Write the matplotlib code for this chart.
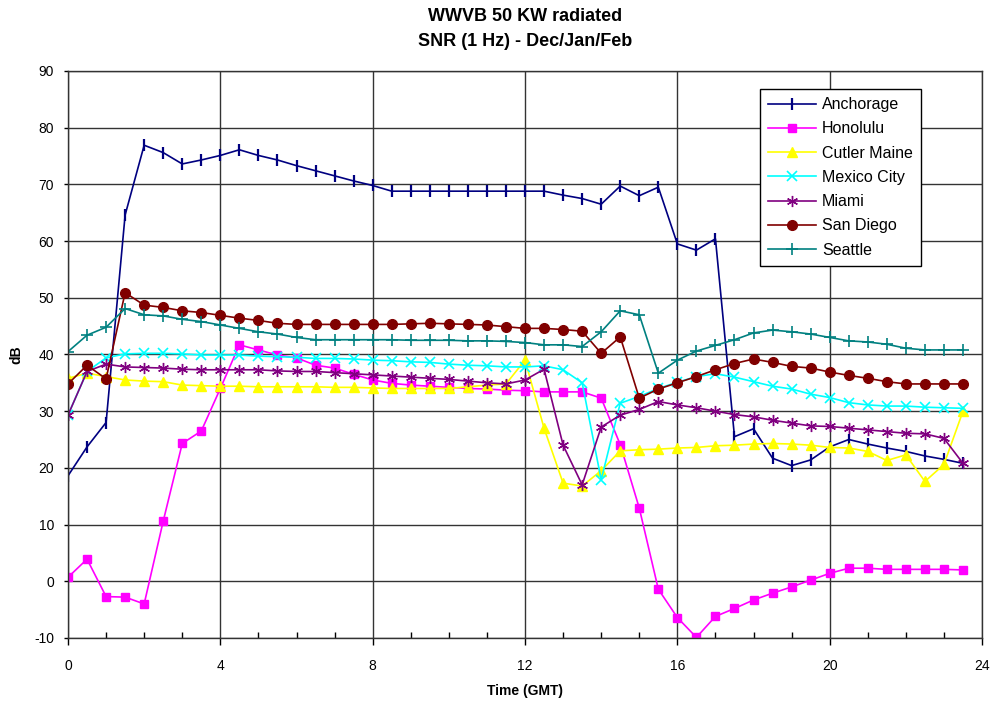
import numpy as np
import matplotlib
matplotlib.use("Agg")
import matplotlib.pyplot as plt
from matplotlib.ticker import MultipleLocator

plt.rcParams['font.family'] = ['Liberation Sans', 'DejaVu Sans']
plt.rcParams['axes.unicode_minus'] = False

# hours GMT, every half hour
hours = np.arange(0, 24, 0.5)

anchorage = [18.6, 23.7, 28.0, 64.6, 76.9, 75.6, 73.6, 74.3, 75.1, 76.1, 75.1, 74.3,
             73.3, 72.4, 71.5, 70.6, 69.8, 68.8, 68.8, 68.8, 68.8, 68.8, 68.8, 68.8,
             68.8, 68.8, 68.1, 67.5, 66.5, 69.7, 68.0, 69.5, 59.5, 58.4, 60.4, 25.5,
             26.9, 21.7, 20.4, 21.4, 23.7, 25.0, 24.2, 23.5, 22.9, 22.1, 21.5, 20.8]
honolulu = [0.7, 3.9, -2.7, -2.8, -4.0, 10.6, 24.3, 26.5, 34.0, 41.7, 40.8, 39.9,
            39.4, 38.1, 37.6, 36.5, 35.5, 34.9, 34.6, 34.4, 34.2, 34.0, 33.9, 33.7,
            33.6, 33.4, 33.4, 33.4, 32.3, 24.1, 12.9, -1.4, -6.4, -9.9, -6.2, -4.8,
            -3.3, -2.1, -1.0, 0.2, 1.4, 2.3, 2.3, 2.1, 2.1, 2.1, 2.1, 2.0]
cutler = [35.8, 36.7, 36.1, 35.5, 35.3, 35.2, 34.6, 34.5, 34.4, 34.4, 34.3, 34.3,
          34.3, 34.3, 34.2, 34.2, 34.1, 34.0, 34.0, 34.0, 34.0, 34.3, 34.6, 34.8,
          39.0, 27.0, 17.3, 16.8, 19.5, 23.0, 23.2, 23.3, 23.5, 23.6, 23.9, 24.0,
          24.2, 24.3, 24.2, 24.0, 23.6, 23.5, 22.9, 21.3, 22.3, 17.6, 20.6, 30.0]
mexico = [29.3, 37.0, 39.4, 40.1, 40.2, 40.2, 40.1, 39.9, 39.9, 39.9, 39.7, 39.6,
          39.5, 39.3, 39.3, 39.2, 39.0, 38.9, 38.7, 38.6, 38.3, 38.1, 38.0, 37.8,
          37.8, 38.0, 37.3, 35.0, 17.9, 31.4, 32.6, 34.0, 35.1, 36.1, 36.6, 36.0,
          35.2, 34.4, 33.9, 33.0, 32.4, 31.5, 31.1, 30.9, 30.9, 30.7, 30.6, 30.5]
miami = [29.3, 37.0, 38.3, 37.8, 37.7, 37.6, 37.4, 37.3, 37.3, 37.3, 37.3, 37.1,
         37.0, 37.0, 36.8, 36.6, 36.4, 36.2, 36.0, 35.8, 35.6, 35.3, 35.0, 34.8,
         35.5, 37.4, 24.0, 17.0, 27.2, 29.3, 30.3, 31.7, 31.1, 30.6, 30.0, 29.4,
         29.0, 28.4, 27.9, 27.4, 27.3, 27.0, 26.7, 26.4, 26.1, 26.0, 25.2, 20.8]
san_diego = [34.8, 38.1, 35.7, 50.9, 48.7, 48.3, 47.7, 47.4, 46.9, 46.4, 46.0, 45.5,
             45.3, 45.3, 45.3, 45.3, 45.3, 45.3, 45.4, 45.5, 45.4, 45.3, 45.2, 44.9,
             44.6, 44.6, 44.4, 44.1, 40.2, 43.1, 32.3, 33.9, 35.0, 36.1, 37.3, 38.4,
             39.2, 38.6, 37.9, 37.6, 36.9, 36.3, 35.8, 35.2, 34.8, 34.8, 34.8, 34.8]
seattle = [40.5, 43.4, 44.8, 48.1, 47.0, 46.8, 46.2, 45.8, 45.2, 44.6, 44.0, 43.6,
           43.0, 42.6, 42.6, 42.6, 42.6, 42.6, 42.5, 42.5, 42.5, 42.4, 42.4, 42.3,
           42.1, 41.7, 41.7, 41.4, 44.0, 47.7, 47.0, 36.7, 39.0, 40.6, 41.6, 42.6,
           43.8, 44.3, 44.0, 43.6, 43.0, 42.4, 42.2, 41.8, 41.1, 40.8, 40.8, 40.8]

fig = plt.figure(figsize=(9.97, 7.04), dpi=100)
ax = fig.add_axes([0.0682, 0.0938, 0.9168, 0.8054])

ax.plot(hours, anchorage, color='#000080', lw=1.2, marker='|', ms=8, mew=1.6, label='Anchorage')
ax.plot(hours, honolulu, color='#FF00FF', lw=1.2, marker='s', ms=6, label='Honolulu')
ax.plot(hours, cutler, color='#FFFF00', lw=1.2, marker='^', ms=7, label='Cutler Maine')
ax.plot(hours, mexico, color='#00FFFF', lw=1.2, marker='x', ms=7, mew=1.2, label='Mexico City')
ax.plot(hours, miami, color='#800080', lw=1.2, marker=(6, 2, 0), ms=8, mew=1.0, label='Miami')
ax.plot(hours, san_diego, color='#800000', lw=1.2, marker='o', ms=7, label='San Diego')
ax.plot(hours, seattle, color='#008080', lw=1.2, marker='+', ms=8, mew=1.2, label='Seattle')

ax.set_xlim(0, 24)
ax.set_ylim(-10, 90)
ax.xaxis.set_major_locator(MultipleLocator(4))
ax.xaxis.set_minor_locator(MultipleLocator(1))
ax.yaxis.set_major_locator(MultipleLocator(10))
ax.tick_params(axis='x', which='major', direction='out', length=5, width=1, labelsize=10, pad=10)
ax.tick_params(axis='y', which='major', direction='out', length=3, width=1, labelsize=10, pad=7)
ax.tick_params(axis='x', which='minor', direction='in', length=4, width=1)
ax.grid(True, which='major', color='#333333', lw=1.0)
ax.set_axisbelow(True)
for s in ax.spines.values():
    s.set_color('#333333')
    s.set_linewidth(1.0)

ax.set_xlabel('Time (GMT)', fontsize=10, fontweight='bold', labelpad=8)
ax.set_ylabel('dB', fontsize=10, fontweight='bold', labelpad=8)
fig.suptitle('WWVB 50 KW radiated\nSNR (1 Hz) - Dec/Jan/Feb', x=0.527, y=0.988,
             fontsize=13, fontweight='bold', linespacing=1.6)

leg = ax.legend(loc='upper left', bbox_to_anchor=(0.757, 0.968), fontsize=11.5,
                frameon=True, fancybox=False, framealpha=1, edgecolor='black',
                borderpad=0.5, borderaxespad=0, labelspacing=0.58,
                handlelength=3.0, handletextpad=0.4)
leg.get_frame().set_linewidth(1.0)

fig.savefig('out.png', dpi=100)
